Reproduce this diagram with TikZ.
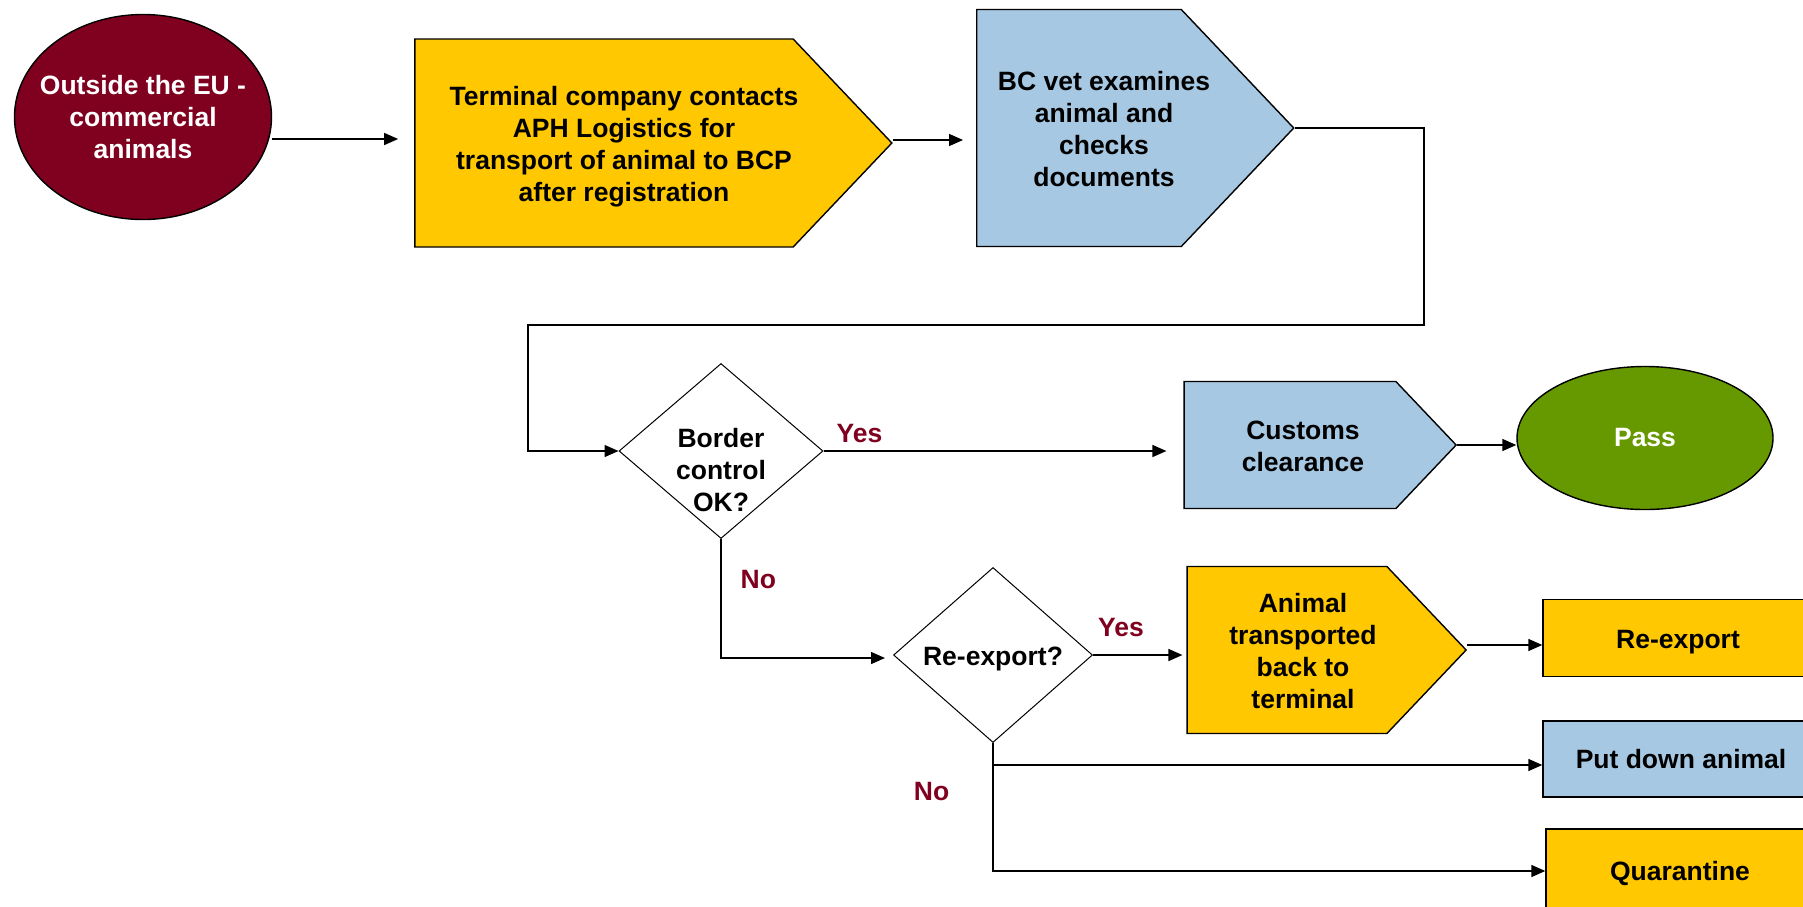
\documentclass[tikz,border=0pt]{standalone}
\usepackage{fontspec}
\setmainfont{Liberation Sans}
\usetikzlibrary{shapes.geometric, shapes.symbols, arrows.meta, calc}

\definecolor{claret}{RGB}{128,0,32}
\definecolor{amber}{RGB}{255,200,0}
\definecolor{skyblue}{RGB}{166,200,226}
\definecolor{passgreen}{RGB}{102,153,0}

% lines centred, pushed right by half the padding and a little down
\newcommand{\padlines}[2]{\raisebox{-4pt}[\height][\depth]{\begin{tabular}{@{\hspace{#1}}c@{}}#2\end{tabular}}}

\begin{document}
\begin{tikzpicture}[x=1pt, y=-1pt, line width=1.4pt,
    font=\fontsize{26.5}{32}\selectfont\bfseries,
    >={Triangle[length=14pt, width=12pt]},
    terminus/.style={ellipse, draw, inner sep=-20pt, align=center},
    actbox/.style={signal, signal to=east, signal from=nowhere, signal pointer angle=93, draw, inner xsep=-40pt, inner ysep=4pt},
    endbox/.style={rectangle, draw, align=center},
    decision/.style={diamond, draw, fill=white, line width=1pt, inner sep=0pt},
    answer/.style={text=claret, inner sep=2pt}]

\useasboundingbox (0,0) rectangle (1803,906);
\clip (0,0) rectangle (1803,906);

% Nodes
\node [terminus, fill=claret, text=white, minimum width=257pt, minimum height=205pt] (eu) at (143,117) {Outside the EU -\\commercial\\animals};
\node [actbox, fill=amber, minimum width=477pt, minimum height=208pt] (terminal) at (604,143)
    {\padlines{40pt}{Terminal company contacts\\APH Logistics for\\transport of animal to BCP\\after registration}};
\node [actbox, fill=skyblue, minimum width=317pt, minimum height=237pt] (bcvet) at (1079,128)
    {\padlines{50pt}{BC vet examines\\animal and\\checks\\documents}};
\node [decision, aspect=1.17, minimum width=204pt, minimum height=175pt] (border) at (721,451)
    {\raisebox{-18pt}[\height][\depth]{\padlines{0pt}{Border\\control\\OK?}}};
\node [actbox, fill=skyblue, minimum width=272pt, minimum height=127pt] (customs) at (1290,445)
    {\padlines{26pt}{Customs\\clearance}};
\node [terminus, fill=passgreen, text=white, minimum width=256pt, minimum height=143pt] (pass) at (1645,438) {Pass};
\node [decision, aspect=1.14, minimum width=199pt, minimum height=175pt] (reexp) at (993,655)
    {\raisebox{-4pt}[\height][\depth]{Re-export?}};
\node [actbox, fill=amber, minimum width=279pt, minimum height=167pt] (animal) at (1287,650)
    {\padlines{32pt}{Animal\\transported\\back to\\terminal}};
\node [endbox, fill=amber, minimum width=270pt, minimum height=77pt] (reexport) at (1678,638) {\raisebox{-4pt}[\height][\depth]{Re-export}};
\node [endbox, fill=skyblue, minimum width=276pt, minimum height=76pt] (putdown) at (1681,759) {Put down animal};
\node [endbox, fill=amber, minimum width=268pt, minimum height=84pt] (quarantine) at (1680,871) {\raisebox{-2pt}[\height][\depth]{Quarantine}};

\coordinate (loopR) at (1424,325);
\coordinate (loopL) at (528,325);

% Arrows
\draw[->, shorten >=16pt] ($(eu.east |- terminal.west)+(0,-4)$) -- ($(terminal.west)+(0,-4)$);
\draw[->, shorten >=13pt] ($(terminal.east)+(0,-3)$) -- ($(terminal.east -| bcvet.west)+(0,-3)$);
\draw[->] (bcvet.east) -| (loopR) -- (loopL) |- (border.west);
\draw[->, shorten >=17pt] (border.east) -- node[answer, pos=0.1, above, yshift=6pt] {Yes} (border.east -| customs.west);
\draw[->] (customs.east) -- (customs.east -| pass.west);
\draw[->, shorten >=8pt] (border.south) |- node[answer, pos=0.17, right, xshift=17pt] {No} ($(reexp.west)+(0,3)$);
\draw[->, shorten >=4pt] (reexp.east) -- node[answer, pos=0.3, above, yshift=16pt] {Yes} (reexp.east -| animal.west);
\draw[->] ($(animal.east)+(0,-5)$) -- ($(animal.east -| reexport.west)+(0,-5)$);
\draw[->] (reexp.south) |- node[answer, pos=0.19, left, xshift=-41pt] {No} (quarantine.west);
\draw[->] ($(reexp.south |- putdown.west)+(0,6)$) -- ($(putdown.west)+(0,6)$);

\end{tikzpicture}
\end{document}
